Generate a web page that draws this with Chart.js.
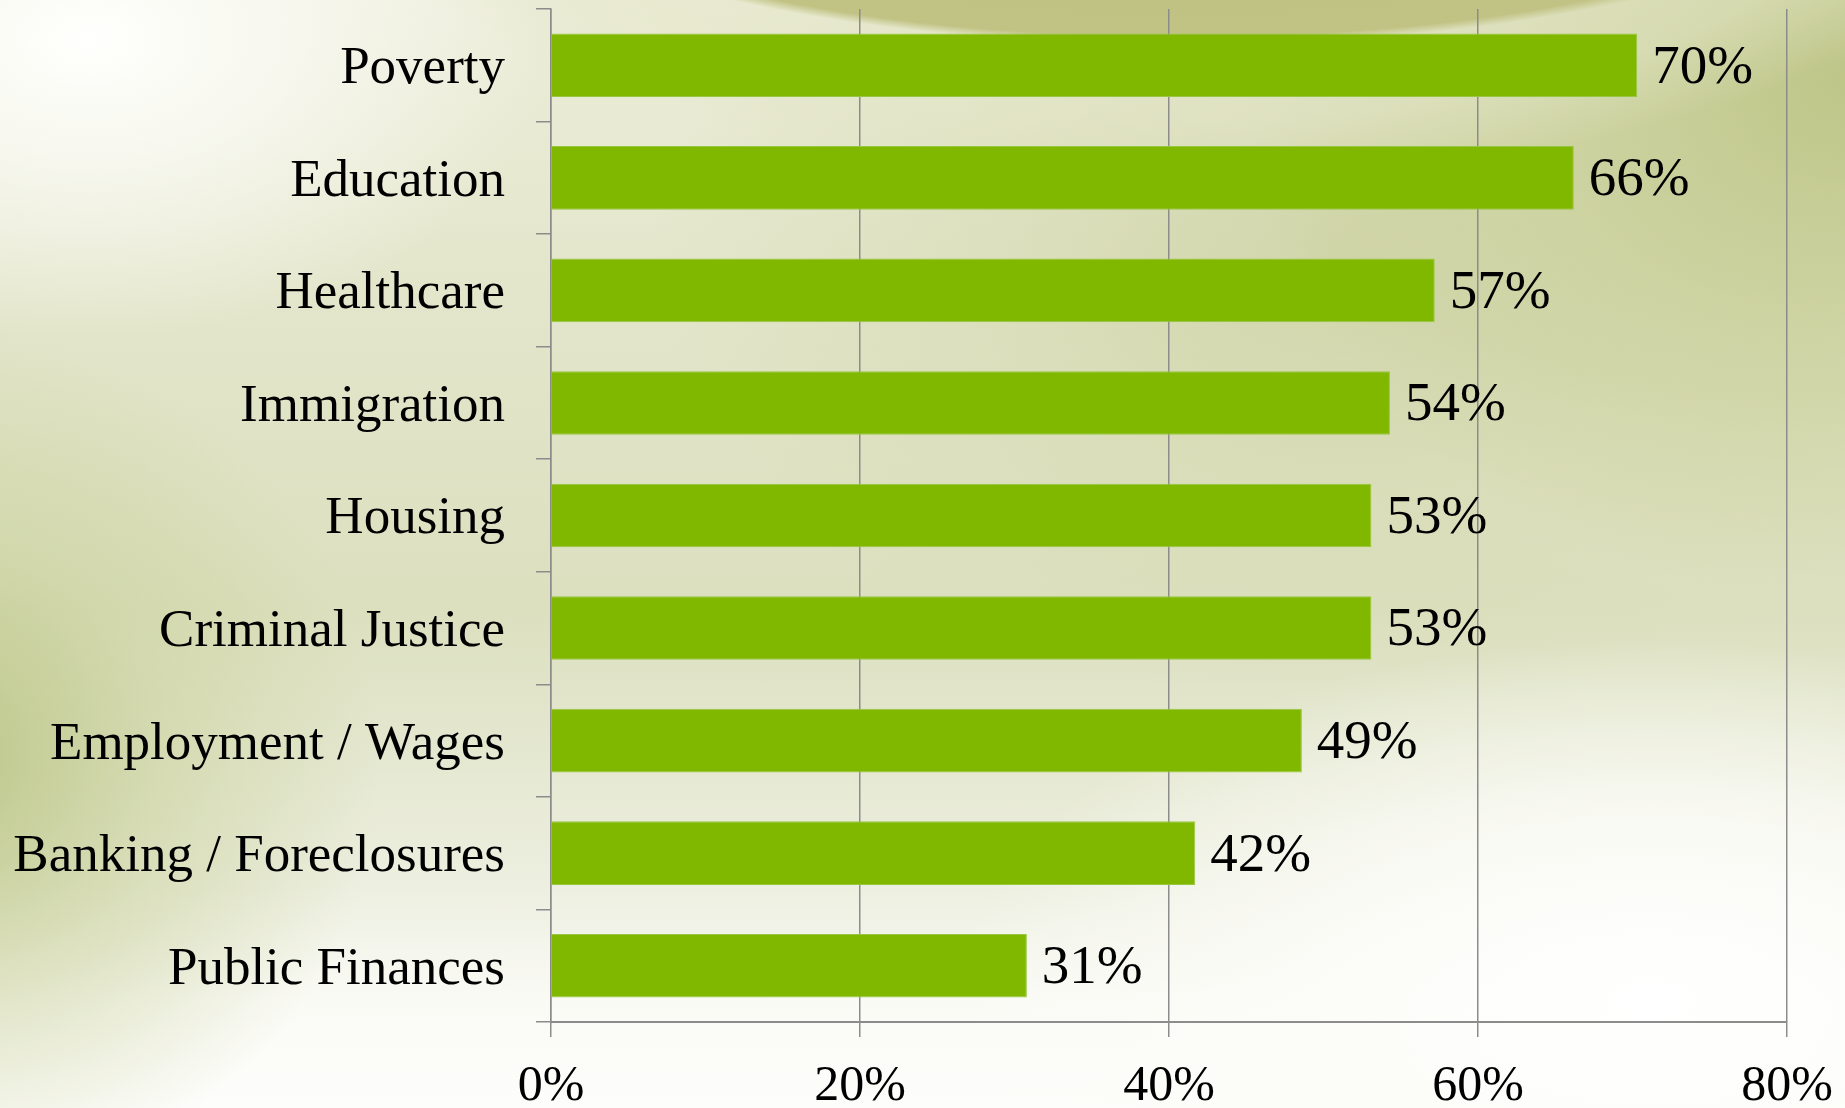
<!DOCTYPE html>
<html>
<head>
<meta charset="utf-8">
<script src="https://cdn.jsdelivr.net/npm/chart.js@4/dist/chart.umd.min.js"></script>
<style>
  html, body { margin: 0; padding: 0; }
  body {
    width: 1845px;
    height: 1108px;
    overflow: hidden;
    background:
      radial-gradient(ellipse 715px 200px at 1182px -155px, #bcbe7e 0%, #c1c385 96%, rgba(215,218,170,0) 100%),
      radial-gradient(ellipse 820px 300px at 1182px -120px, rgba(228,230,200,0.9) 0%, rgba(228,230,200,0.5) 80%, rgba(228,230,200,0) 100%),
      radial-gradient(ellipse 600px 520px at 1845px 80px, rgba(188,196,132,0.95) 0%, rgba(198,205,148,0.65) 50%, rgba(220,225,185,0) 100%),
      radial-gradient(ellipse 700px 450px at 1350px 250px, rgba(200,206,155,0.7) 0%, rgba(210,215,170,0.4) 55%, rgba(220,225,185,0) 100%),
      radial-gradient(ellipse 440px 430px at -60px 760px, rgba(186,196,132,0.95) 0%, rgba(203,210,158,0.6) 50%, rgba(225,229,195,0) 100%),
      radial-gradient(ellipse 460px 300px at 90px 40px, rgba(255,255,253,1) 0%, rgba(250,250,244,0.7) 50%, rgba(245,246,235,0) 100%),
      radial-gradient(ellipse 700px 360px at 1650px 1000px, rgba(255,255,255,1) 0%, rgba(252,252,248,0.85) 50%, rgba(250,250,245,0) 100%),
      linear-gradient(to bottom, #ecedd9 0%, #e2e5c9 30%, #dce0bf 55%, #edefe0 80%, #fafaf5 90%, #fdfdfb 100%);
  }
  canvas { display: block; }
</style>
</head>
<body>
<canvas id="chart" width="1845" height="1108"></canvas>
<script>
// Données du graphique
const categories = [
  "Poverty",
  "Education",
  "Healthcare",
  "Immigration",
  "Housing",
  "Criminal Justice",
  "Employment / Wages",
  "Banking / Foreclosures",
  "Public Finances",
];
const values = [70.3, 66.2, 57.2, 54.3, 53.1, 53.1, 48.6, 41.7, 30.8];
const valueLabels = ["70%", "66%", "57%", "54%", "53%", "53%", "49%", "42%", "31%"];
const xTickValues = [0, 20, 40, 60, 80];

const serif = "'Liberation Serif', 'Times New Roman', serif";
const gridGray = "#8c8c8c";

// Etiquettes de valeur à droite des barres
const valueLabelPlugin = {
  id: "valueLabels",
  afterDatasetsDraw(chart) {
    const ctx = chart.ctx;
    const meta = chart.getDatasetMeta(0);
    ctx.save();
    ctx.font = "55px " + serif;
    ctx.fillStyle = "#000";
    ctx.textAlign = "left";
    ctx.textBaseline = "middle";
    meta.data.forEach((bar, i) => {
      ctx.fillText(valueLabels[i], bar.x + 15, bar.y + 3);
    });
    ctx.restore();
  },
};

const chartCanvas = document.getElementById("chart");
new Chart(chartCanvas, {
  type: "bar",
  data: {
    labels: categories,
    datasets: [
      {
        data: values,
        backgroundColor: "#80b800",
        borderColor: "#98c640",
        borderWidth: 1,
        categoryPercentage: 1,
        barPercentage: 0.565,
      },
    ],
  },
  options: {
    indexAxis: "y",
    responsive: false,
    animation: false,
    devicePixelRatio: 1,
    layout: { padding: { top: 9, right: 58, left: 0, bottom: 0 } },
    plugins: {
      legend: { display: false },
      tooltip: { enabled: false },
    },
    scales: {
      x: {
        min: 0,
        max: 80,
        afterBuildTicks: (scale) => {
          scale.ticks = xTickValues.map((v) => ({ value: v }));
        },
        afterFit: (scale) => {
          scale.height = 86;
          scale.paddingLeft = 0;
          scale.paddingRight = 0;
        },
        grid: {
          color: gridGray,
          lineWidth: 1.5,
          drawTicks: true,
          tickLength: 15,
        },
        border: { color: gridGray, width: 2 },
        ticks: {
          color: "#000",
          padding: 20,
          maxRotation: 0,
          font: { family: serif, size: 50 },
          callback: (v) => v + "%",
        },
      },
      y: {
        afterFit: (scale) => {
          scale.width = 551;
          scale.paddingTop = 0;
          scale.paddingBottom = 0;
        },
        grid: {
          drawOnChartArea: false,
          drawTicks: true,
          tickLength: 15,
          color: gridGray,
          lineWidth: 1.5,
        },
        border: { color: gridGray, width: 1.5 },
        ticks: {
          color: "#000",
          padding: 31,
          labelOffset: 4,
          font: { family: serif, size: 53 },
        },
      },
    },
  },
  plugins: [valueLabelPlugin],
});
</script>
</body>
</html>
